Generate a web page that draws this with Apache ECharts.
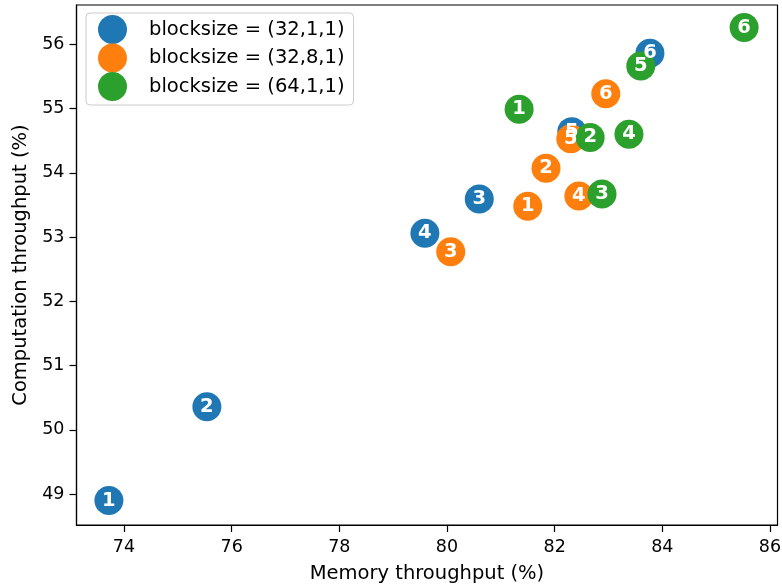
<!DOCTYPE html>
<html>
<head>
<meta charset="utf-8">
<script src="https://cdn.jsdelivr.net/npm/echarts@6/dist/echarts.min.js"></script>
<style>
  html, body { margin: 0; padding: 0; background: #fff; }
  #chart { width: 782px; height: 587px; }
</style>
</head>
<body>
<div id="chart"></div>
<script>
// Throughput measurements per block size, runs 1..6
const runLabels = ['1', '2', '3', '4', '5', '6'];

const memB1 = [73.72, 75.54, 80.60, 79.59, 82.32, 83.77];
const compB1 = [48.90, 50.36, 53.59, 53.06, 54.64, 55.86];

const memB2 = [81.50, 81.84, 80.07, 82.45, 82.30, 82.95];
const compB2 = [53.48, 54.07, 52.77, 53.64, 54.53, 55.23];

const memB3 = [81.34, 82.66, 82.88, 83.38, 83.60, 85.52];
const compB3 = [54.99, 54.55, 53.67, 54.60, 55.66, 56.26];

const seriesNames = ['blocksize = (32,1,1)', 'blocksize = (32,8,1)', 'blocksize = (64,1,1)'];
const seriesColors = ['#1f77b4', '#ff7f0e', '#2ca02c'];

const xTicks = [74, 76, 78, 80, 82, 84, 86];
const yTicks = [49, 50, 51, 52, 53, 54, 55, 56];

const FONT = 'DejaVu Sans';
const TICK_SIZE = 17.5;
const TITLE_SIZE = 19.5;

function pairs(xs, ys) {
  return xs.map((x, i) => [x, ys[i], runLabels[i]]);
}

function scatter(name, color, xs, ys) {
  return {
    name: name,
    type: 'scatter',
    symbol: 'circle',
    symbolSize: 29,
    itemStyle: { color: color, opacity: 1 },
    label: {
      show: true,
      position: 'inside',
      formatter: p => p.value[2],
      color: '#fff',
      fontFamily: FONT,
      fontWeight: 'bold',
      fontSize: 19.5
    },
    emphasis: { disabled: true },
    data: pairs(xs, ys)
  };
}

const chart = echarts.init(document.getElementById('chart'), null, { renderer: 'canvas' });

chart.setOption({
  animation: false,
  backgroundColor: '#fff',
  textStyle: { fontFamily: FONT },
  grid: {
    left: 76.5, right: 4.5, top: 5, bottom: 62,
    containLabel: false,
    outerBoundsMode: 'none',
    show: true, borderColor: '#000', borderWidth: 1.2, backgroundColor: 'transparent'
  },
  legend: {
    orient: 'vertical',
    left: 86, top: 13,
    icon: 'circle',
    itemWidth: 29, itemHeight: 29, itemGap: -0.5,
    padding: [2, 9, 4, 12],
    borderColor: '#cccccc', borderWidth: 1, borderRadius: 4,
    backgroundColor: 'rgba(255,255,255,0.8)',
    textStyle: { fontFamily: FONT, fontSize: TITLE_SIZE, color: '#000', padding: [0, 0, 0, 17] },
    data: seriesNames
  },
  xAxis: {
    type: 'value',
    min: 73.118, max: 86.14,
    name: 'Memory throughput (%)',
    nameLocation: 'middle', nameGap: 39,
    nameTextStyle: { fontFamily: FONT, fontSize: TITLE_SIZE, color: '#000' },
    axisLine: { show: true, lineStyle: { color: '#000', width: 1.2 } },
    axisTick: { show: true, inside: false, length: 7, customValues: xTicks, lineStyle: { color: '#000', width: 1.2 } },
    axisLabel: { show: true, margin: 13, customValues: xTicks, fontFamily: FONT, fontSize: TICK_SIZE, color: '#000' },
    splitLine: { show: false }
  },
  yAxis: {
    type: 'value',
    min: 48.52, max: 56.61,
    name: 'Computation throughput (%)',
    nameLocation: 'middle', nameGap: 45,
    nameTextStyle: { fontFamily: FONT, fontSize: TITLE_SIZE, color: '#000' },
    axisLine: { show: true, lineStyle: { color: '#000', width: 1.2 } },
    axisTick: { show: true, inside: false, length: 7, customValues: yTicks, lineStyle: { color: '#000', width: 1.2 } },
    axisLabel: { show: true, margin: 12, customValues: yTicks, fontFamily: FONT, fontSize: TICK_SIZE, color: '#000' },
    splitLine: { show: false }
  },
  series: [
    scatter(seriesNames[0], seriesColors[0], memB1, compB1),
    scatter(seriesNames[1], seriesColors[1], memB2, compB2),
    scatter(seriesNames[2], seriesColors[2], memB3, compB3)
  ]
});
</script>
</body>
</html>
